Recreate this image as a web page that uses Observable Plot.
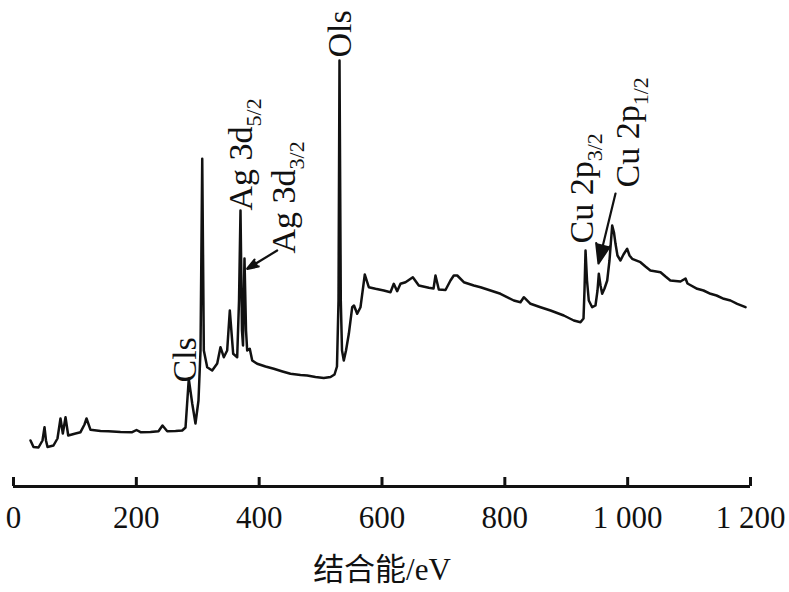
<!DOCTYPE html>
<html>
<head>
<meta charset="utf-8">
<script src="https://cdn.jsdelivr.net/npm/d3@7"></script>
<script src="https://cdn.jsdelivr.net/npm/@observablehq/plot@0.6"></script>
<style>
  html, body { margin: 0; padding: 0; background: #fff; }
  #chart svg { display: block; }
</style>
</head>
<body>
<div id="chart"></div>
<script>
// XPS survey spectrum: binding energy (eV) and intensity (arbitrary units)
const energy = [27.7, 32.6, 40.7, 47.2, 50.5, 52.9, 55.4, 65.1, 71.6, 76.5, 80.3, 84.7, 89.1, 101, 109.1, 115.6, 118.9, 125.4, 141.7, 154.7,
  174.2, 193.3, 200.3, 206.8, 223.1, 236.1, 242.6, 250.3, 263.8, 274.7, 280.1, 285.4, 291, 296.3, 301.2, 304.5, 307.3, 309.9, 315.4, 323.5,
  331.7, 337, 342.4, 347.9, 352.2, 357.7, 364.2, 367.2, 369.6, 372, 373.7, 376.1, 378.6, 380.5, 384.7, 388.7, 396.8, 410.3, 423.8, 438,
  451, 467.3, 478.2, 491.7, 505.2, 516.2, 522.7, 526.7, 529.2, 530.8, 532.9, 534.9, 537.8, 541.4, 546, 551.5, 554.4, 559.6, 565, 572,
  578.5, 589.4, 602.9, 613.8, 619.2, 624.7, 630.1, 638.3, 650.2, 659.9, 676.2, 683.9, 687.1, 692.5, 703.4, 711.5, 716.9, 722.5, 733.2, 749.5,
  760.4, 776.7, 792.9, 814.6, 825.5, 830.9, 841.8, 858.1, 874.4, 896, 912.3, 923.2, 928.1, 929.7, 931.4, 933.8, 936.7, 942.2, 947.6, 950.9,
  953, 955.8, 958.5, 962.3, 966.7, 970.4, 974.8, 977.7, 980.2, 983.4, 988.3, 993.2, 999.2, 1003, 1007.3, 1020.8, 1028.9, 1037, 1053.5, 1061.6,
  1069.5, 1086, 1094.2, 1097.4, 1113.2, 1123.5, 1134.9, 1144.7, 1156.5, 1167.4, 1178.4, 1191.9];
const intensity = [46, 39.5, 39, 46, 59.3, 46, 39.5, 41, 48, 68, 53, 69.3, 51, 53, 54.3, 62, 68, 56.7, 55.5, 55.3,
  54.5, 54.3, 56.5, 54.3, 54.5, 55.3, 61, 55.3, 55.5, 56, 59, 107.7, 83, 63, 86, 136, 327.7, 136, 119.3, 116,
  123, 139.3, 129.3, 136, 176, 132.7, 129.3, 186, 276, 156, 141, 228, 156, 136, 137.7, 126, 122.7, 120, 117.7, 115,
  112.7, 111.5, 111, 109.5, 108.5, 109.5, 112, 120, 186, 426, 186, 136, 126, 136, 152.7, 179.3, 181, 172.7, 179.3, 212,
  199.3, 197.7, 196, 194.3, 202.7, 195.3, 202.7, 204.3, 209.3, 201, 198.7, 198, 211, 197, 196.5, 206, 211, 211, 204.3, 201,
  199.3, 196, 192.7, 186, 184.3, 189.3, 182.7, 179.3, 176, 171, 166, 164.3, 168, 196, 236, 206, 186, 179.3, 181, 196,
  212.7, 201, 192.7, 198, 206, 226, 261, 254, 242.7, 231, 226, 232, 237.7, 231, 227.7, 224.3, 220, 216, 214.3, 210,
  206, 205, 208, 203, 197.7, 196, 192.7, 191, 187.7, 186, 182.7, 179.3];

// Axis ticks
const tickValues = [0, 200, 400, 600, 800, 1000, 1200];
const tickLabels = ["0", "200", "400", "600", "800", "1 000", "1 200"];
const xLabel = "结合能/eV";

// Peak annotations (rotated text), anchored in data coordinates
const labelText = ["Cls", "Ag 3d", "Ag 3d", "Ols", "Cu 2p", "Cu 2p"];
const labelSub = ["", "5/2", "3/2", "", "3/2", "1/2"];
const labelEnergy = [280, 371, 440, 532, 926.5, 1000];
const labelIntensity = [104, 276, 233, 429, 243, 299];

// Arrows pointing to peaks
const arrowFromE = [429.3, 980.2];
const arrowFromI = [236, 293];
const arrowToE = [380.5, 952.5];
const arrowToI = [217.7, 223];

const spectrum = energy.map((e, i) => ({e, v: intensity[i]}));
const labels = labelText.map((t, i) => ({t, sub: labelSub[i], e: labelEnergy[i], v: labelIntensity[i]}));
const arrows = arrowFromE.map((e, i) => ({x1: e, y1: arrowFromI[i], x2: arrowToE[i], y2: arrowToI[i]}));

const serif = "'Liberation Serif', 'Times New Roman', 'Noto Sans CJK SC', serif";

const chart = Plot.plot({
  width: 789,
  height: 592,
  marginLeft: 13,
  marginRight: 39,
  marginTop: 0,
  marginBottom: 106,
  style: {background: "#fff", fontFamily: serif, color: "#111"},
  x: {domain: [0, 1200]},
  y: {domain: [0, 486], axis: null},
  marks: [
    Plot.axisX({
      ticks: tickValues,
      tickFormat: d => tickLabels[tickValues.indexOf(d)],
      tickSize: 0,
      tickPadding: 19,
      fontSize: 31,
      fontFamily: serif,
      label: xLabel,
      labelAnchor: "center",
      labelArrow: "none",
      labelOffset: 93
    }),
    Plot.ruleY([0], {x1: tickValues[0], x2: tickValues[tickValues.length - 1], stroke: "#111", strokeWidth: 3}),
    Plot.ruleX(tickValues, {y1: 0, y2: 9, stroke: "#111", strokeWidth: 3}),
    Plot.line(spectrum, {x: "e", y: "v", stroke: "#111", strokeWidth: 2.5, strokeLinejoin: "round"}),
    Plot.arrow(arrows, {x1: "x1", y1: "y1", x2: "x2", y2: "y2", stroke: "#111", fill: "#111", strokeWidth: 2.2, headLength: 14, headAngle: 40}),
    Plot.text(labels, {x: "e", y: "v", text: "t", rotate: -90, textAnchor: "start", fontSize: 34, fontFamily: serif, fill: "#111"})
  ]
});

// add subscripts as tspans
chart.querySelectorAll('g[aria-label="text"] text').forEach((node, i) => {
  const s = labels[i] && labels[i].sub;
  if (s) {
    const main = node.textContent;
    node.textContent = "";
    const t1 = document.createElementNS("http://www.w3.org/2000/svg", "tspan");
    t1.textContent = main;
    const t2 = document.createElementNS("http://www.w3.org/2000/svg", "tspan");
    t2.textContent = s;
    t2.setAttribute("font-size", "22");
    t2.setAttribute("dy", "9");
    node.appendChild(t1);
    node.appendChild(t2);
  }
});

document.getElementById("chart").appendChild(chart);
</script>
</body>
</html>
